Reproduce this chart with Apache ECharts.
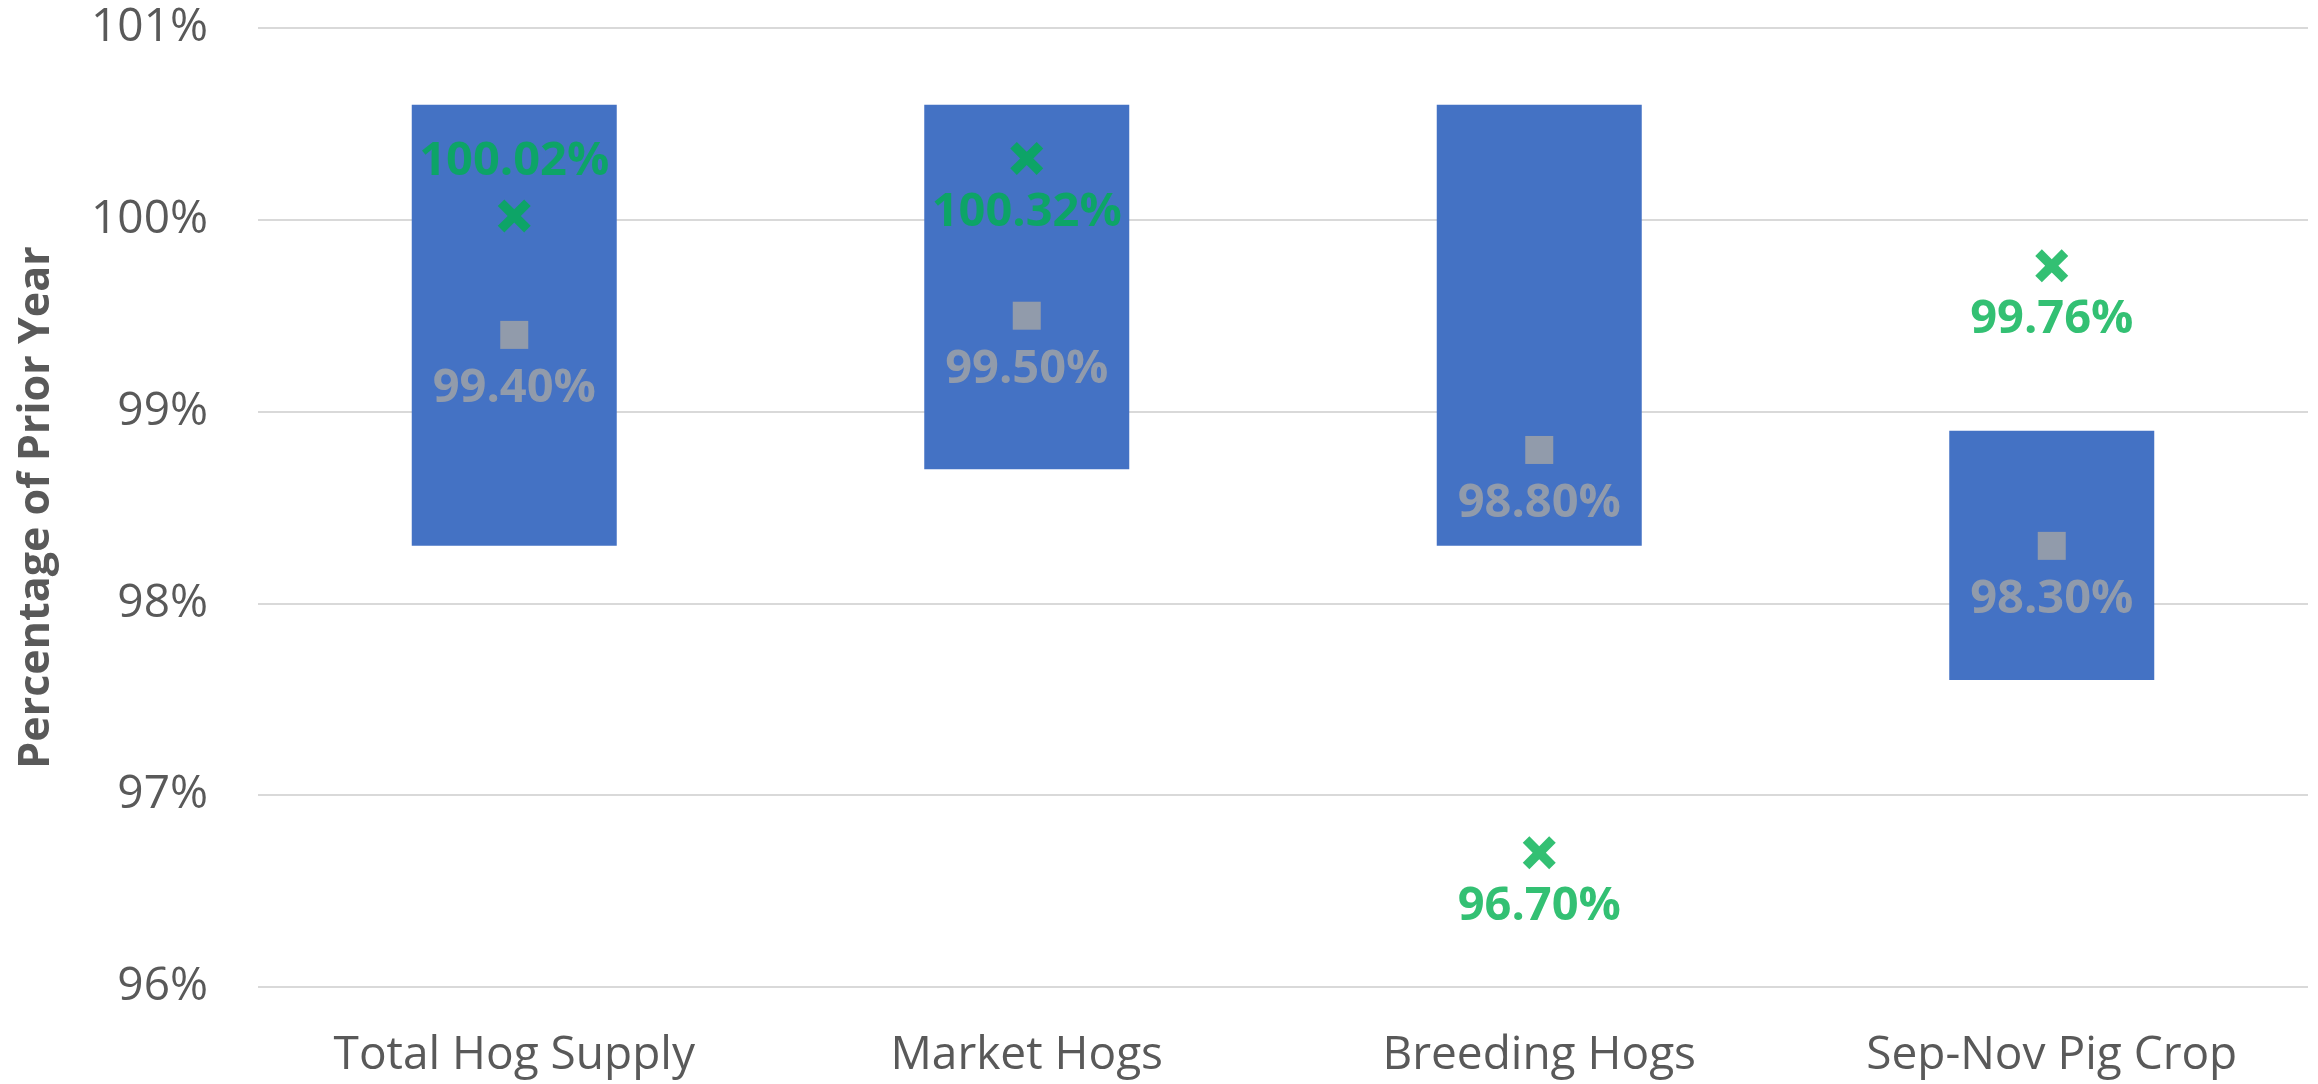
<!DOCTYPE html>
<html><head><meta charset="utf-8">
<script src="https://cdn.jsdelivr.net/npm/echarts@6/dist/echarts.min.js"></script>
<style>html,body{margin:0;padding:0;background:#fff}#c{width:2318px;height:1084px}</style>
</head><body><div id="c"></div>
<script>
const categories = ['Total Hog Supply', 'Market Hogs', 'Breeding Hogs', 'Sep-Nov Pig Crop'];
const rangeLow = [98.3, 98.7, 98.3, 97.6];
const rangeHigh = [100.6, 100.6, 100.6, 98.9];
const grayValues = [99.40, 99.50, 98.80, 98.30];
const greenValues = [100.02, 100.32, 96.70, 99.76];
const greenLabelPos = ['top', 'bottom', 'bottom', 'bottom'];
const yTicks = [96, 97, 98, 99, 100, 101];

const X_PATH = 'path://M0,2 L2,0 L5,3 L8,0 L10,2 L7,5 L10,8 L8,10 L5,7 L2,10 L0,8 L3,5 Z';
const labelFont = { fontFamily: 'Open Sans', fontWeight: 'bold', fontSize: 47 };

const chart = echarts.init(document.getElementById('c'));
chart.setOption({
  animation: false,
  grid: { left: 258, right: 10, top: 28, bottom: 97 },
  xAxis: {
    type: 'category', data: categories,
    axisLine: { show: false }, axisTick: { show: false },
    axisLabel: { color: '#595959', fontFamily: 'Open Sans', fontSize: 46, margin: 46 }
  },
  yAxis: {
    type: 'value', min: yTicks[0], max: yTicks[yTicks.length - 1], interval: 1,
    name: 'Percentage of Prior Year', nameLocation: 'middle', nameGap: 200,
    nameTextStyle: { color: '#595959', fontFamily: 'Open Sans', fontWeight: 'bold', fontSize: 43 },
    axisLine: { show: false }, axisTick: { show: false },
    axisLabel: { color: '#595959', fontFamily: 'Open Sans', fontSize: 46, margin: 50,
      formatter: v => v + '%' },
    splitLine: { lineStyle: { color: '#d9d9d9', width: 2 } }
  },
  series: [
    { type: 'bar', stack: 'r', data: rangeLow, barWidth: '40%',
      itemStyle: { color: 'transparent' }, silent: true },
    { type: 'bar', stack: 'r', data: rangeHigh.map((h, i) => +(h - rangeLow[i]).toFixed(4)),
      barWidth: '40%', itemStyle: { color: '#4472C4' } },
    { type: 'scatter', data: grayValues, symbol: 'rect', symbolSize: 28, z: 5,
      itemStyle: { color: '#A5A5A5' },
      label: Object.assign({ show: true, position: 'bottom', distance: 16, color: '#A5A5A5',
        formatter: p => p.value.toFixed(2) + '%' }, labelFont) },
    { type: 'scatter', symbol: X_PATH, symbolSize: 33, z: 6,
      itemStyle: { color: '#00B050' },
      data: greenValues.map((v, i) => ({ value: v,
        label: { position: greenLabelPos[i] } })),
      label: Object.assign({ show: true, distance: 14, color: '#00B050',
        formatter: p => p.value.toFixed(2) + '%' }, labelFont) }
  ]
});
</script></body></html>
